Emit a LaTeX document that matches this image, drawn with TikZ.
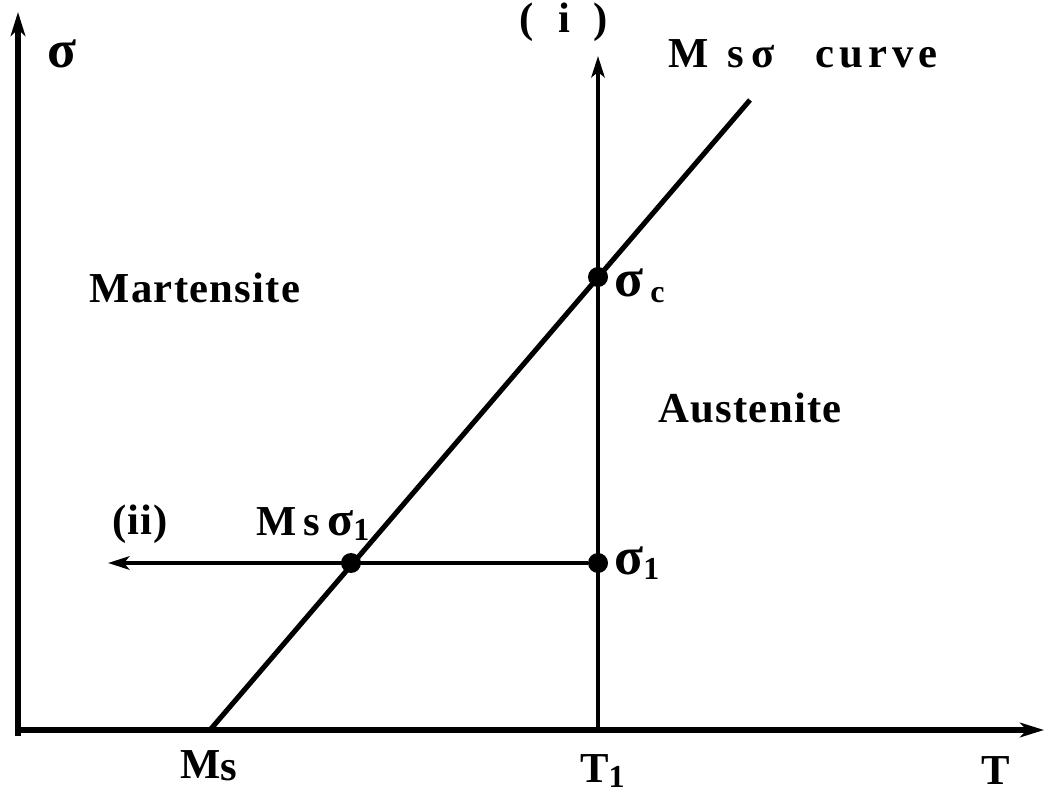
\documentclass[tikz,border=0pt]{standalone}
\usepackage{fontspec}
\setmainfont{Liberation Serif}[LetterSpace=3]
\usetikzlibrary{arrows.meta}
\newcommand{\lbl}{\fontsize{32}{36}\selectfont\bfseries}
\newcommand{\bigsig}{{\fontsize{40}{40}\selectfont σ}}
\newcommand{\midsig}{{\fontsize{36}{36}\selectfont σ}}
\newcommand{\sub}[1]{\raisebox{-0.3ex}{\fontsize{24}{26}\selectfont #1}}
\begin{document}
\begin{tikzpicture}[x=0.75pt,y=-0.75pt,
  axisline/.style={line width=4.8pt,-{Stealth[length=18pt,width=11pt,inset=5pt]}},
  arrline/.style={line width=3.4pt,-{Stealth[length=16pt,width=10pt,inset=4pt]}},
  curveline/.style={line width=3.8pt},
  dot/.style={circle,fill=black,inner sep=0pt,minimum size=15pt},
  txt/.style={font=\lbl,inner sep=0pt}]
\useasboundingbox (0,0) rectangle (1046,798);
\coordinate (O) at (16,730);
\coordinate (Yb) at (18,736);
\coordinate (Ytop) at (18,12);
\coordinate (Xend) at (1044,730);
\coordinate (Msp) at (210,730);
\coordinate (Cend) at (750,100);
\coordinate (T1p) at (598,730);
\coordinate (Ttop) at (598,56);
\coordinate (Lend) at (108,563);
\node[dot] (sc) at (598,277) {};
\node[dot] (s1) at (598,563) {};
\node[dot] (ms1) at (351,563) {};
% axes
\draw[axisline] (Yb) -- (Ytop);
\draw[axisline] (O) -- (Xend);
% lines
\draw[arrline] (T1p) -- (Ttop);
\draw[arrline] (s1) -- (Lend);
\draw[curveline] (Msp) -- (Cend);
% labels
\node[txt] (sig) at (62,54) {\bigsig};
\node[txt] (i) at (564,22) {(\ \ i\ \ )};
\node[txt,anchor=base west] (msc) at (668,68) {M\ \,s\,σ};
\node[txt,anchor=base west] (crv) at (815,68) {\addfontfeature{LetterSpace=12}curve};
\node[txt] (mart) at (195,288) {Martensite};
\node[txt,anchor=base west] (sclbl) at (614,297) {\bigsig\,\sub{c}};
\node[txt] (aus) at (750,408) {Austenite};
\node[txt] (ii) at (140,524) {(ii)};
\node[txt,anchor=base west] (msl) at (256,535) {M\,s\,\midsig\sub{1}};
\node[txt,anchor=base west] (s1l) at (614,574) {\bigsig\sub{1}};
\node[txt,anchor=base west] (msx) at (180,778) {M\raisebox{-0.15ex}{s}};
\node[txt,anchor=base west] (t1) at (580,782) {T\sub{1}};
\node[txt,anchor=base] (t) at (996,784) {T};
\end{tikzpicture}
\end{document}
